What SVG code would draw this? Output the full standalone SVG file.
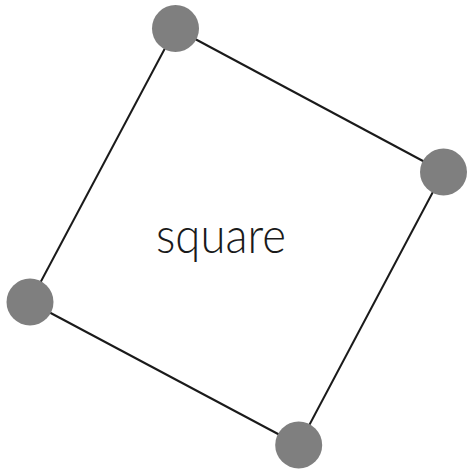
<svg xmlns="http://www.w3.org/2000/svg" width="467" height="469" viewBox="0 0 467 469">
<style>
.edge{stroke:#1a1a1a;stroke-width:2;fill:none}
.node{fill:#7f7f7f}
.lbl{font-family:Lato,"Noto Sans",sans-serif;font-weight:300;font-size:50px;fill:#1a1a1a}
</style>
<rect width="467" height="469" fill="#fff"/>
<g id="connectors">
<line class="edge" x1="175.5" y1="28.5" x2="443.5" y2="172"/>
<line class="edge" x1="443.5" y1="172" x2="298.7" y2="445"/>
<line class="edge" x1="298.7" y1="445" x2="30" y2="302"/>
<line class="edge" x1="30" y1="302" x2="175.5" y2="28.5"/>
</g>
<g id="n1"><circle class="node" cx="175.5" cy="28.5" r="23.5"/></g>
<g id="n2"><circle class="node" cx="443.5" cy="172" r="23.5"/></g>
<g id="n3"><circle class="node" cx="298.7" cy="445" r="23.5"/></g>
<g id="n4"><circle class="node" cx="30" cy="302" r="23.5"/></g>
<text class="lbl" x="156" y="253" textLength="130" lengthAdjust="spacingAndGlyphs">square</text>
</svg>
